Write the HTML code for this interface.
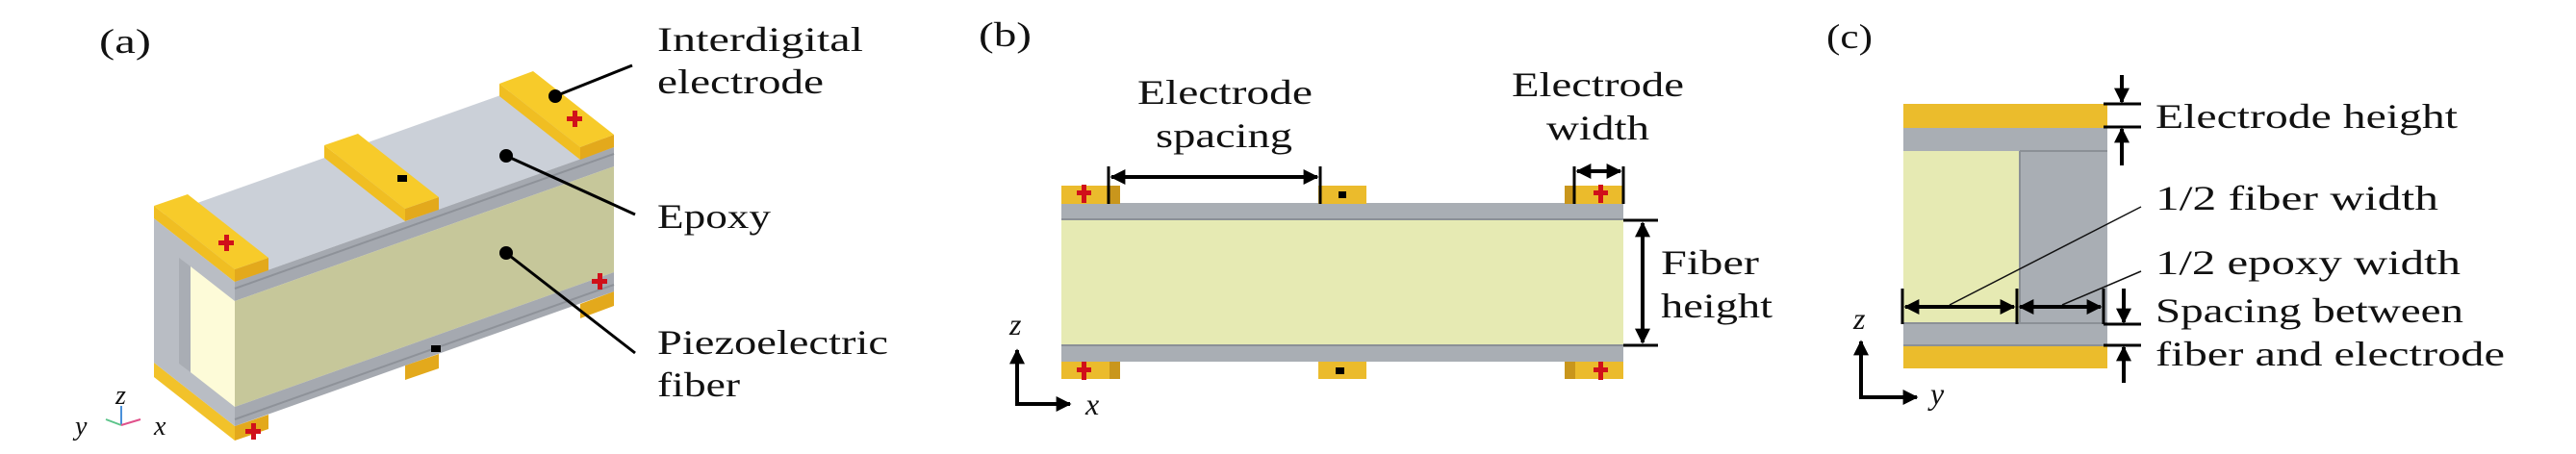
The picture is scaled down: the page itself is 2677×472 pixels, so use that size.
<!DOCTYPE html>
<html><head><meta charset="utf-8"><style>
html,body{margin:0;padding:0;background:#fff;}
svg{display:block;}
text{font-family:"Liberation Serif",serif;fill:#111;}
</style></head><body>
<svg width="2677" height="472" viewBox="0 0 2677 472" xmlns="http://www.w3.org/2000/svg">
<defs>
<marker id="ah" viewBox="0 0 10 10" refX="9" refY="5" markerWidth="4" markerHeight="4" orient="auto-start-reverse" markerUnits="strokeWidth">
<path d="M0,0 L10,5 L0,10 Z" fill="#000"/>
</marker>
</defs>

<!-- ===== Panel (a) ===== -->
<text x="103" y="55" font-size="36" textLength="54" lengthAdjust="spacingAndGlyphs">(a)</text>

<!-- bottom electrodes -->
<polygon points="244,443 279,431 279,446 244,458" fill="#e3a91c"/>
<polygon points="160,377 244,443 244,458 160,392" fill="#f2c22a"/>
<polygon points="421,380 456,368 456,383 421,395" fill="#e3a91c"/>
<polygon points="603,316 638,303 638,318 603,331" fill="#e3a91c"/>

<!-- block: left face -->
<polygon points="244,293 160,227 160,377 244,443" fill="#b9bdc4"/>
<polygon points="244,313 198,277 198,387 244,423" fill="#fdfbd8"/>
<polygon points="198,277 186,268 186,378 198,387" fill="#a9adb4"/>
<!-- top face -->
<polygon points="244,293 638,153 554,87 160,227" fill="#cbd0d8"/>
<!-- front face -->
<polygon points="244,293 638,153 638,173 244,313" fill="#a5a9b0"/>
<polygon points="244,313 638,173 638,283 244,423" fill="#c6c79a"/>
<polygon points="244,423 638,283 638,303 244,443" fill="#a5a9b0"/>
<line x1="244" y1="300" x2="638" y2="160" stroke="#8e9299" stroke-width="2"/>
<line x1="244" y1="436" x2="638" y2="296" stroke="#8e9299" stroke-width="2"/>

<!-- top electrodes (u 0-0.09, 0.45-0.54, 0.91-1) -->
<!-- left -->
<polygon points="244,280 279,268 279,281 244,293" fill="#e3a91c"/>
<polygon points="160,214 244,280 244,293 160,227" fill="#f0be22"/>
<polygon points="160,214 195,202 279,268 244,280" fill="#f7cb2a"/>
<!-- middle -->
<polygon points="421,217 456,205 456,218 421,230" fill="#e3a91c"/>
<polygon points="337,151 421,217 421,230 337,164" fill="#f0be22"/>
<polygon points="337,151 372,139 456,205 421,217" fill="#f7cb2a"/>
<!-- right -->
<polygon points="603,153 638,140 638,153 603,166" fill="#e3a91c"/>
<polygon points="519,87 603,153 603,166 519,100" fill="#f0be22"/>
<polygon points="519,87 554,74 638,140 603,153" fill="#f7cb2a"/>

<!-- signs -->
<g fill="#d0101a">
<rect x="227" y="250" width="16" height="5"/><rect x="233" y="244" width="5" height="17"/>
<rect x="589" y="121" width="16" height="5"/><rect x="595" y="115" width="5" height="17"/>
<rect x="615" y="290" width="16" height="5"/><rect x="621" y="284" width="5" height="17"/>
<rect x="255" y="446" width="16" height="5"/><rect x="261" y="440" width="5" height="17"/>
</g>
<rect x="413" y="182" width="10" height="7" fill="#000"/>
<rect x="448" y="359" width="10" height="7" fill="#000"/>

<!-- leaders -->
<g stroke="#000" stroke-width="3">
<line x1="577" y1="100" x2="657" y2="68"/>
<line x1="526" y1="162" x2="660" y2="223"/>
<line x1="526" y1="263" x2="660" y2="367"/>
</g>
<circle cx="577" cy="100" r="7"/>
<circle cx="526" cy="162" r="7"/>
<circle cx="526" cy="263" r="7"/>

<text x="683" y="53" font-size="36" textLength="214" lengthAdjust="spacingAndGlyphs">Interdigital</text>
<text x="683" y="97" font-size="36" textLength="173" lengthAdjust="spacingAndGlyphs">electrode</text>
<text x="683" y="237" font-size="36" textLength="118" lengthAdjust="spacingAndGlyphs">Epoxy</text>
<text x="683" y="368" font-size="36" textLength="240" lengthAdjust="spacingAndGlyphs">Piezoelectric</text>
<text x="683" y="412" font-size="36" textLength="86" lengthAdjust="spacingAndGlyphs">fiber</text>

<!-- small axes -->
<text x="120" y="420" font-size="28" font-style="italic">z</text>
<text x="78" y="452" font-size="28" font-style="italic">y</text>
<text x="160" y="452" font-size="28" font-style="italic">x</text>
<line x1="126" y1="442" x2="126" y2="422" stroke="#4a90d9" stroke-width="2"/>
<line x1="126" y1="442" x2="110" y2="436" stroke="#5cc48a" stroke-width="2"/>
<line x1="126" y1="442" x2="146" y2="436" stroke="#e0508a" stroke-width="2"/>

<!-- ===== Panel (b) ===== -->
<text x="1017" y="48" font-size="36" textLength="55" lengthAdjust="spacingAndGlyphs">(b)</text>
<!-- bar -->
<rect x="1103" y="211" width="584" height="18" fill="#a9aeb4"/>
<line x1="1103" y1="228" x2="1687" y2="228" stroke="#8b9096" stroke-width="2"/>
<rect x="1103" y="229" width="584" height="129" fill="#e6eab3"/>
<rect x="1103" y="358" width="584" height="18" fill="#a9aeb4"/>
<line x1="1103" y1="359" x2="1687" y2="359" stroke="#8b9096" stroke-width="2"/>
<!-- electrodes -->
<g fill="#ebbb2c">
<rect x="1103" y="193" width="61" height="19"/>
<rect x="1370" y="193" width="50" height="19"/>
<rect x="1626" y="193" width="61" height="19"/>
<rect x="1103" y="376" width="61" height="18"/>
<rect x="1370" y="376" width="50" height="18"/>
<rect x="1626" y="376" width="61" height="18"/>
</g>
<g fill="#c9961c">
<rect x="1153" y="193" width="11" height="19"/>
<rect x="1626" y="193" width="11" height="19"/>
<rect x="1153" y="376" width="11" height="18"/>
<rect x="1626" y="376" width="11" height="18"/>
</g>
<g fill="#d0101a">
<rect x="1119" y="198" width="15" height="5"/><rect x="1124" y="192" width="5" height="19"/>
<rect x="1656" y="198" width="15" height="5"/><rect x="1661" y="192" width="5" height="19"/>
<rect x="1119" y="382" width="15" height="5"/><rect x="1124" y="376" width="5" height="19"/>
<rect x="1656" y="382" width="15" height="5"/><rect x="1661" y="376" width="5" height="19"/>
</g>
<rect x="1391" y="199" width="8" height="7" fill="#000"/>
<rect x="1388" y="382" width="9" height="7" fill="#000"/>
<!-- dims -->
<g stroke="#000" stroke-width="3">
<line x1="1152" y1="173" x2="1152" y2="212"/>
<line x1="1372" y1="173" x2="1372" y2="212"/>
<line x1="1636" y1="173" x2="1636" y2="212"/>
<line x1="1687" y1="173" x2="1687" y2="212"/>
<line x1="1687" y1="229" x2="1723" y2="229"/>
<line x1="1687" y1="359" x2="1723" y2="359"/>
</g>
<g stroke="#000" stroke-width="4" marker-start="url(#ah)" marker-end="url(#ah)">
<line x1="1155" y1="184" x2="1369" y2="184"/>
<line x1="1639" y1="178" x2="1684" y2="178"/>
<line x1="1707" y1="232" x2="1707" y2="356"/>
</g>
<text x="1182" y="108" font-size="36" textLength="182" lengthAdjust="spacingAndGlyphs">Electrode</text>
<text x="1201" y="153" font-size="36" textLength="142" lengthAdjust="spacingAndGlyphs">spacing</text>
<text x="1571" y="100" font-size="36" textLength="179" lengthAdjust="spacingAndGlyphs">Electrode</text>
<text x="1607" y="145" font-size="36" textLength="107" lengthAdjust="spacingAndGlyphs">width</text>
<text x="1726" y="285" font-size="36" textLength="102" lengthAdjust="spacingAndGlyphs">Fiber</text>
<text x="1726" y="330" font-size="36" textLength="116" lengthAdjust="spacingAndGlyphs">height</text>
<!-- axes -->
<g stroke="#000" stroke-width="4" fill="none">
<polyline points="1057,364 1057,420 1112,420" marker-start="url(#ah)" marker-end="url(#ah)"/>
</g>
<text x="1049" y="348" font-size="32" font-style="italic">z</text>
<text x="1128" y="431" font-size="32" font-style="italic">x</text>

<!-- ===== Panel (c) ===== -->
<text x="1898" y="50" font-size="36" textLength="48" lengthAdjust="spacingAndGlyphs">(c)</text>
<rect x="1978" y="108" width="212" height="25" fill="#ebbc2c"/>
<rect x="1978" y="133" width="212" height="24" fill="#a9aeb4"/>
<rect x="1978" y="157" width="121" height="179" fill="#e6eab3"/>
<rect x="2099" y="157" width="91" height="179" fill="#a9aeb4"/>
<line x1="2099" y1="157" x2="2099" y2="336" stroke="#8b9096" stroke-width="2"/>
<line x1="2099" y1="157" x2="2190" y2="157" stroke="#8b9096" stroke-width="2"/>
<rect x="1978" y="336" width="212" height="23" fill="#a9aeb4"/>
<line x1="1978" y1="336" x2="2190" y2="336" stroke="#8b9096" stroke-width="2"/>
<line x1="1978" y1="359" x2="2190" y2="359" stroke="#8b9096" stroke-width="2"/>
<rect x="1978" y="360" width="212" height="23" fill="#ebbc2c"/>
<!-- leader lines -->
<g stroke="#111" stroke-width="1.5">
<line x1="2026" y1="317" x2="2225" y2="215"/>
<line x1="2143" y1="317" x2="2225" y2="282"/>
</g>
<!-- ticks -->
<g stroke="#000" stroke-width="3">
<line x1="2186" y1="108" x2="2225" y2="108"/>
<line x1="2186" y1="132" x2="2225" y2="132"/>
<line x1="1977" y1="300" x2="1977" y2="337"/>
<line x1="2096" y1="300" x2="2096" y2="337"/>
<line x1="2186" y1="300" x2="2186" y2="337"/>
<line x1="2186" y1="337" x2="2225" y2="337"/>
<line x1="2186" y1="359" x2="2225" y2="359"/>
</g>
<g stroke="#000" stroke-width="4">
<line x1="2205" y1="78" x2="2205" y2="106" marker-end="url(#ah)"/>
<line x1="2205" y1="172" x2="2205" y2="134" marker-end="url(#ah)"/>
<line x1="2207" y1="300" x2="2207" y2="335" marker-end="url(#ah)"/>
<line x1="2207" y1="398" x2="2207" y2="361" marker-end="url(#ah)"/>
<line x1="1980" y1="319" x2="2093" y2="319" marker-start="url(#ah)" marker-end="url(#ah)"/>
<line x1="2099" y1="319" x2="2183" y2="319" marker-start="url(#ah)" marker-end="url(#ah)"/>
</g>
<text x="2240" y="133" font-size="36" textLength="314" lengthAdjust="spacingAndGlyphs">Electrode height</text>
<text x="2240" y="218" font-size="36" textLength="294" lengthAdjust="spacingAndGlyphs">1/2 fiber width</text>
<text x="2240" y="285" font-size="36" textLength="317" lengthAdjust="spacingAndGlyphs">1/2 epoxy width</text>
<text x="2240" y="335" font-size="36" textLength="320" lengthAdjust="spacingAndGlyphs">Spacing between</text>
<text x="2240" y="380" font-size="36" textLength="363" lengthAdjust="spacingAndGlyphs">fiber and electrode</text>
<!-- axes -->
<g stroke="#000" stroke-width="4" fill="none">
<polyline points="1934,355 1934,413 1992,413" marker-start="url(#ah)" marker-end="url(#ah)"/>
</g>
<text x="1926" y="342" font-size="32" font-style="italic">z</text>
<text x="2006" y="420" font-size="32" font-style="italic">y</text>
</svg>
</body></html>
